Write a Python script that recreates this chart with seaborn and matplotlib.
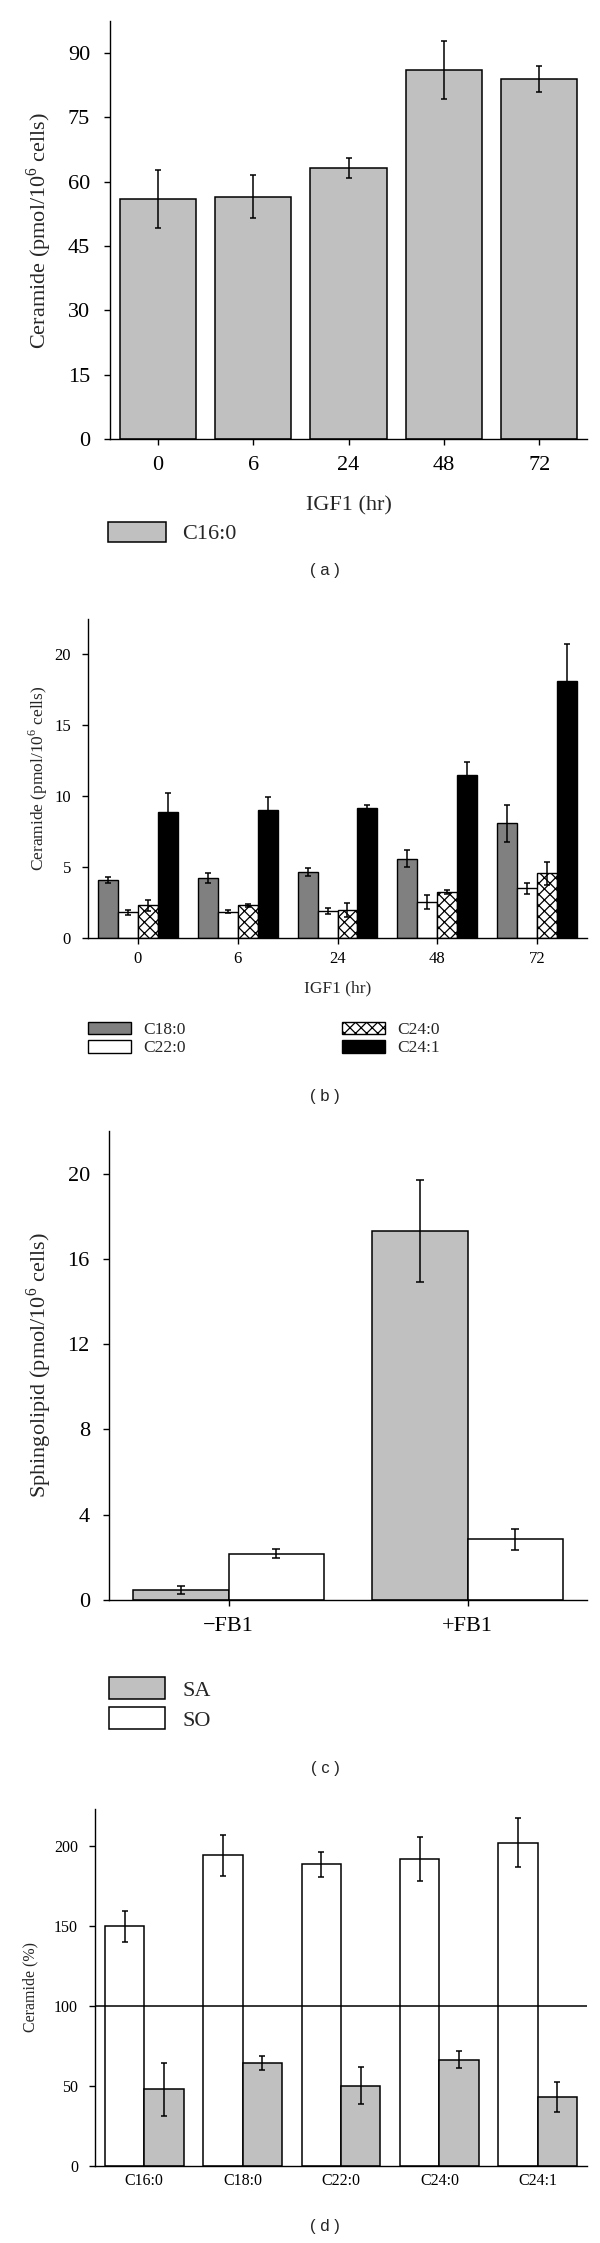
import pandas as pd
import seaborn as sns
import matplotlib.pyplot as plt

sns.set_style("ticks")
plt.rcParams['font.family'] = ['Liberation Serif', 'DejaVu Serif']
plt.rcParams['mathtext.fontset'] = 'custom'
plt.rcParams['mathtext.rm'] = 'Liberation Serif'
plt.rcParams['axes.linewidth'] = 1.0
plt.rcParams['xtick.major.width'] = 1.0
plt.rcParams['ytick.major.width'] = 1.0
plt.rcParams['xtick.color'] = 'black'
plt.rcParams['ytick.color'] = 'black'
plt.rcParams['axes.edgecolor'] = 'black'
plt.rcParams['hatch.linewidth'] = 0.9

# ---- data ----
# (a) C16:0 ceramide vs IGF1 time
hours = ["0", "6", "24", "48", "72"]
c16_mean = [56.0, 56.5, 63.2, 86.0, 84.0]
c16_err = [6.8, 5.0, 2.3, 6.8, 3.0]

# (b) other ceramides vs IGF1 time
b_species = ["C18:0", "C22:0", "C24:0", "C24:1"]
c18_mean = [4.1, 4.2, 4.65, 5.6, 8.1]
c18_err = [0.2, 0.35, 0.3, 0.6, 1.3]
c22_mean = [1.8, 1.85, 1.9, 2.55, 3.5]
c22_err = [0.2, 0.1, 0.2, 0.5, 0.38]
c240_mean = [2.3, 2.3, 1.95, 3.25, 4.55]
c240_err = [0.38, 0.13, 0.5, 0.14, 0.8]
c241_mean = [8.9, 9.05, 9.15, 11.5, 18.15]
c241_err = [1.3, 0.93, 0.23, 0.9, 2.57]

# (c) sphingolipids with/without FB1
fb1 = ["\u2212FB1", "+FB1"]
c_species = ["SA", "SO"]
sa_mean = [0.45, 17.3]
sa_err = [0.19, 2.4]
so_mean = [2.17, 2.85]
so_err = [0.2, 0.5]

# (d) ceramide percent
d_species = ["C16:0", "C18:0", "C22:0", "C24:0", "C24:1"]
d_groups = ["group1", "group2"]
d1_mean = [149.7, 194.0, 188.5, 191.8, 202.0]
d1_err = [9.6, 13.0, 7.8, 14.0, 15.3]
d2_mean = [47.8, 64.2, 50.1, 66.5, 43.2]
d2_err = [16.5, 4.2, 11.6, 5.2, 9.4]

W, H = 600, 2243
fig = plt.figure(figsize=(W / 100, H / 100), dpi=100)


def place(left, right, top, bottom):
    return fig.add_axes([left / W, 1 - bottom / H, (right - left) / W, (bottom - top) / H])


def add_err(ax, container, means, errs, cap):
    xs = [p.get_x() + p.get_width() / 2 for p in container]
    ax.errorbar(xs, means, yerr=errs, fmt='none', ecolor='black',
                elinewidth=1.1, capsize=cap, capthick=1.1, zorder=5)


def style(ax, fs, ypad, xpad, xticklen=4.3):
    sns.despine(ax=ax)
    ax.tick_params(axis='y', labelsize=fs, length=4.3, pad=ypad, direction='out')
    ax.tick_params(axis='x', labelsize=fs, length=xticklen, pad=xpad, direction='out')
    ax.grid(False)


def caption(y, txt):
    fig.text(325 / W, 1 - y / H, txt, ha='center', va='center',
             fontsize=12, family=['Liberation Sans', 'DejaVu Sans'])


# ---- panel a ----
ax = place(110, 587, 21, 439)
df_a = pd.DataFrame({"hour": hours, "value": c16_mean})
sns.barplot(data=df_a, x="hour", y="value", order=hours, color="#c0c0c0",
            saturation=1, edgecolor="black", linewidth=1.1, width=0.8,
            errorbar=None, ax=ax)
add_err(ax, ax.containers[0], c16_mean, c16_err, 2.3)
ax.set_xlim(-0.5, 4.5)
ax.set_ylim(0, 97.5)
ax.set_yticks([0, 15, 30, 45, 60, 75, 90])
style(ax, 16, 10, 8)
ax.set_xlabel("IGF1 (hr)", fontsize=16)
ax.xaxis.label.set_va('center')
ax.xaxis.set_label_coords(0.5, (439 - 506) / 418)
ax.set_ylabel("Ceramide (pmol/10$^6$ cells)", fontsize=16)
ax.yaxis.label.set_va('center')
ax.yaxis.set_label_coords((39 - 110) / 477, 0.5)
ax.legend(handles=[ax.containers[0][0]], labels=["C16:0"], loc='center left',
          bbox_to_anchor=(108 / W, 1 - 533 / H), bbox_transform=fig.transFigure,
          frameon=False, fontsize=16, handlelength=2.6, handleheight=1.0,
          handletextpad=0.75, borderpad=0, borderaxespad=0)
caption(570, "( a )")

# ---- panel b ----
ax = place(88, 587, 619, 938)
df_b = pd.DataFrame({
    "hour": hours * 4,
    "species": [s for s in b_species for _ in hours],
    "value": c18_mean + c22_mean + c240_mean + c241_mean,
})
pal_b = {"C18:0": "#808080", "C22:0": "white", "C24:0": "white", "C24:1": "black"}
sns.barplot(data=df_b, x="hour", y="value", hue="species", order=hours,
            hue_order=b_species, palette=pal_b, saturation=1, edgecolor="black",
            linewidth=1.0, width=0.8, gap=0, errorbar=None, legend=False, ax=ax)
for bar in ax.containers[2]:
    bar.set_hatch('xxx')
for cont, m, e in zip(ax.containers, [c18_mean, c22_mean, c240_mean, c241_mean],
                      [c18_err, c22_err, c240_err, c241_err]):
    add_err(ax, cont, m, e, 2.0)
ax.set_xlim(-0.5, 4.5)
ax.set_ylim(0, 22.5)
ax.set_yticks([0, 5, 10, 15, 20])
style(ax, 12, 8, 5)
ax.set_xlabel("IGF1 (hr)", fontsize=12.5)
ax.xaxis.label.set_va('center')
ax.xaxis.set_label_coords(0.5, (938 - 988) / 319)
ax.set_ylabel("Ceramide (pmol/10$^6$ cells)", fontsize=12.5)
ax.yaxis.label.set_va('center')
ax.yaxis.set_label_coords((38 - 88) / 499, 0.5)
hb = [c[0] for c in ax.containers]
kw = dict(frameon=False, fontsize=12.5, handlelength=2.5, handleheight=0.75,
          handletextpad=0.7, labelspacing=0.12, borderpad=0, borderaxespad=0,
          loc='center left', bbox_transform=fig.transFigure)
leg1 = ax.legend(handles=hb[:2], labels=b_species[:2],
                 bbox_to_anchor=(88 / W, 1 - 1039 / H), **kw)
ax.add_artist(leg1)
ax.legend(handles=hb[2:], labels=b_species[2:],
          bbox_to_anchor=(342 / W, 1 - 1039 / H), **kw)
caption(1096, "( b )")

# ---- panel c ----
ax = place(109, 587, 1131, 1600)
df_c = pd.DataFrame({
    "cond": fb1 * 2,
    "species": [s for s in c_species for _ in fb1],
    "value": sa_mean + so_mean,
})
sns.barplot(data=df_c, x="cond", y="value", hue="species", order=fb1,
            hue_order=c_species, palette={"SA": "#c0c0c0", "SO": "white"},
            saturation=1, edgecolor="black", linewidth=1.1, width=0.8, gap=0,
            errorbar=None, legend=False, ax=ax)
for cont, m, e in zip(ax.containers, [sa_mean, so_mean], [sa_err, so_err]):
    add_err(ax, cont, m, e, 3.2)
ax.set_xlim(-0.5, 1.5)
ax.set_ylim(0, 22.0)
ax.set_yticks([0, 4, 8, 12, 16, 20])
style(ax, 16, 9.5, 8)
ax.set_xlabel("")
ax.set_ylabel("Sphingolipid (pmol/10$^6$ cells)", fontsize=16)
ax.yaxis.label.set_va('center')
ax.yaxis.set_label_coords((39 - 109) / 478, 0.5)
ax.legend(handles=[c[0] for c in ax.containers], labels=c_species,
          loc='center left', bbox_to_anchor=(109 / W, 1 - 1704 / H),
          bbox_transform=fig.transFigure, frameon=False, fontsize=16,
          handlelength=2.5, handleheight=1.1, handletextpad=0.8,
          labelspacing=0.3, borderpad=0, borderaxespad=0)
caption(1768, "( c )")

# ---- panel d ----
ax = place(95, 587, 1809, 2166)
df_d = pd.DataFrame({
    "species": d_species * 2,
    "group": [g for g in d_groups for _ in d_species],
    "value": d1_mean + d2_mean,
})
sns.barplot(data=df_d, x="species", y="value", hue="group", order=d_species,
            hue_order=d_groups, palette={"group1": "white", "group2": "#c0c0c0"},
            saturation=1, edgecolor="black", linewidth=1.1, width=0.8, gap=0,
            errorbar=None, legend=False, ax=ax)
for cont, m, e in zip(ax.containers, [d1_mean, d2_mean], [d1_err, d2_err]):
    add_err(ax, cont, m, e, 2.4)
ax.axhline(100, color='black', lw=1.1, zorder=4)
ax.set_xlim(-0.5, 4.5)
ax.set_ylim(0, 223)
ax.set_yticks([0, 50, 100, 150, 200])
style(ax, 11.5, 8, 5, xticklen=0)
ax.set_xlabel("")
ax.set_ylabel("Ceramide (%)", fontsize=11.5)
ax.yaxis.label.set_va('center')
ax.yaxis.set_label_coords((30 - 95) / 492, 0.5)
caption(2227, "( d )")

fig.savefig("out.png", dpi=100, facecolor="white")
